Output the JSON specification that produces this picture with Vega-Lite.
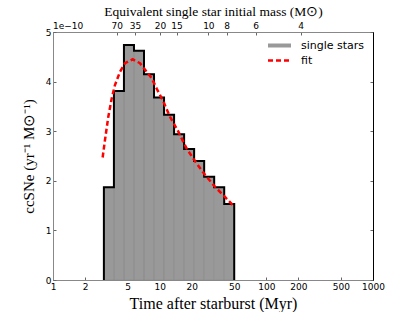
{
  "$schema": "https://vega.github.io/schema/vega-lite/v6.json",
  "width": 320,
  "height": 248,
  "autosize": "none",
  "padding": {"left": 53, "top": 32, "right": 42, "bottom": 32},
  "background": "white",
  "config": {
    "view": {"stroke": "black", "strokeWidth": 1},
    "axis": {"grid": false, "labelFont": "DejaVu Sans", "labelFontSize": 9, "labelColor": "black", "titleFont": "Liberation Serif", "titleFontSize": 16, "titleFontWeight": "normal", "titleColor": "black", "tickSize": -3, "tickColor": "#666", "labelFlush": false, "labelOverlap": false}
  },
  "datasets": {
    "bins": [
      {"t0": 3.0, "t1": 3.725, "rate": 1.87e-10},
      {"t0": 3.725, "t1": 4.625, "rate": 3.81e-10},
      {"t0": 4.625, "t1": 5.743, "rate": 4.74e-10},
      {"t0": 5.743, "t1": 7.131, "rate": 4.62e-10},
      {"t0": 7.131, "t1": 8.854, "rate": 4.15e-10},
      {"t0": 8.854, "t1": 10.99, "rate": 3.68e-10},
      {"t0": 10.99, "t1": 13.65, "rate": 3.33e-10},
      {"t0": 13.65, "t1": 16.95, "rate": 2.94e-10},
      {"t0": 16.95, "t1": 21.04, "rate": 2.64e-10},
      {"t0": 21.04, "t1": 26.13, "rate": 2.40e-10},
      {"t0": 26.13, "t1": 32.44, "rate": 2.08e-10},
      {"t0": 32.44, "t1": 40.28, "rate": 1.87e-10},
      {"t0": 40.28, "t1": 50.0, "rate": 1.53e-10}
    ],
    "outline": [
      {"i": 0, "t": 3.0, "rate": 0},
      {"i": 1, "t": 3.0, "rate": 1.87e-10},
      {"i": 2, "t": 3.725, "rate": 3.81e-10},
      {"i": 3, "t": 4.625, "rate": 4.74e-10},
      {"i": 4, "t": 5.743, "rate": 4.62e-10},
      {"i": 5, "t": 7.131, "rate": 4.15e-10},
      {"i": 6, "t": 8.854, "rate": 3.68e-10},
      {"i": 7, "t": 10.99, "rate": 3.33e-10},
      {"i": 8, "t": 13.65, "rate": 2.94e-10},
      {"i": 9, "t": 16.95, "rate": 2.64e-10},
      {"i": 10, "t": 21.04, "rate": 2.40e-10},
      {"i": 11, "t": 26.13, "rate": 2.08e-10},
      {"i": 12, "t": 32.44, "rate": 1.87e-10},
      {"i": 13, "t": 40.28, "rate": 1.53e-10},
      {"i": 14, "t": 50.0, "rate": 1.53e-10},
      {"i": 15, "t": 50.0, "rate": 0}
    ],
    "fit": [
      {"t": 2.92, "rate": 2.47e-10},
      {"t": 3.07, "rate": 2.82e-10},
      {"t": 3.30, "rate": 3.29e-10},
      {"t": 3.55, "rate": 3.66e-10},
      {"t": 3.81, "rate": 3.93e-10},
      {"t": 4.25, "rate": 4.20e-10},
      {"t": 4.73, "rate": 4.37e-10},
      {"t": 5.58, "rate": 4.45e-10},
      {"t": 6.54, "rate": 4.37e-10},
      {"t": 7.55, "rate": 4.20e-10},
      {"t": 8.41, "rate": 4.07e-10},
      {"t": 9.37, "rate": 3.86e-10},
      {"t": 10.82, "rate": 3.60e-10},
      {"t": 12.5, "rate": 3.29e-10},
      {"t": 14.97, "rate": 2.99e-10},
      {"t": 17.9, "rate": 2.65e-10},
      {"t": 22.2, "rate": 2.35e-10},
      {"t": 26.6, "rate": 2.12e-10},
      {"t": 33.0, "rate": 1.88e-10},
      {"t": 39.5, "rate": 1.71e-10},
      {"t": 49.0, "rate": 1.50e-10}
    ],
    "note": [{"label": "1e\u221210"}]
  },
  "resolve": {"axis": {"x": "independent", "y": "independent"}},
  "layer": [
    {
      "data": {"name": "bins"},
      "mark": {"type": "rect", "fillOpacity": 1},
      "encoding": {
        "x": {"field": "t0", "type": "quantitative", "scale": {"type": "log", "domain": [1, 1000], "nice": false},
          "axis": {"orient": "bottom", "values": [1, 2, 5, 10, 20, 50, 100, 200, 500, 1000], "format": "d", "domainColor": "#888", "labelPadding": 5, "title": "Time after starburst (Myr)", "titlePadding": 4}},
        "x2": {"field": "t1"},
        "y": {"field": "rate", "type": "quantitative", "scale": {"domain": [0, 5e-10], "nice": false, "zero": true},
          "axis": {"orient": "left", "values": [0, 1e-10, 2e-10, 3e-10, 4e-10, 5e-10], "labelExpr": "format(datum.value*1e10,'d')", "domainColor": "#888", "labelPadding": 5, "title": "ccSNe (yr\u207b\u00b9 M\u2299\u207b\u00b9)", "titleFontSize": 15, "titlePadding": 9}},
        "y2": {"datum": 0},
        "color": {"datum": "single stars", "type": "nominal",
          "scale": {"domain": ["single stars", "fit"], "range": ["#999999", "#ff0000"]},
          "legend": {"title": null, "orient": "top-right", "offset": 8, "labelFont": "DejaVu Sans", "labelFontSize": 11, "labelColor": "black", "symbolSize": 100, "labelOffset": 16, "rowPadding": 3,
            "encode": {"symbols": {"update": {
              "shape": {"signal": "datum.label === 'fit' ? 'M-2.3,0H2.3' : 'M-2.3,-0.4H2.3V0.4H-2.3Z'"},
              "fill": {"signal": "datum.label === 'fit' ? 'transparent' : '#999999'"},
              "stroke": {"signal": "datum.label === 'fit' ? '#ff0000' : 'transparent'"},
              "strokeDash": {"signal": "datum.label === 'fit' ? [5, 3] : [1, 0]"},
              "strokeWidth": {"signal": "datum.label === 'fit' ? 2.5 : 0"},
              "opacity": {"value": 1},
              "fillOpacity": {"value": 1}
            }}}
          }}
      }
    },
    {
      "data": {"name": "bins"},
      "mark": {"type": "rect", "fill": "transparent", "stroke": "#8c8c8c", "strokeWidth": 0.6},
      "encoding": {
        "x": {"field": "t0", "type": "quantitative", "axis": null},
        "x2": {"field": "t1"},
        "y": {"field": "rate", "type": "quantitative", "axis": null},
        "y2": {"datum": 0}
      }
    },
    {
      "data": {"name": "outline"},
      "mark": {"type": "line", "interpolate": "step-after", "stroke": "black", "strokeWidth": 2},
      "encoding": {
        "x": {"field": "t", "type": "quantitative", "axis": null},
        "y": {"field": "rate", "type": "quantitative", "axis": null},
        "order": {"field": "i", "type": "quantitative"}
      }
    },
    {
      "data": {"name": "fit"},
      "mark": {"type": "line", "strokeWidth": 2.5, "strokeDash": [5, 3]},
      "encoding": {
        "x": {"field": "t", "type": "quantitative",
          "axis": {"orient": "top", "values": [3.95, 5.87, 10.07, 14.4, 28.6, 42.5, 79.5, 210], "labelExpr": "datum.value < 5 ? '70' : datum.value < 8 ? '35' : datum.value < 12 ? '20' : datum.value < 20 ? '15' : datum.value < 35 ? '10' : datum.value < 60 ? '8' : datum.value < 150 ? '6' : '4'", "labelPadding": 5, "title": "Equivalent single star initial mass (M\u2299)", "titleFontSize": 13.5, "titlePadding": 3}},
        "y": {"field": "rate", "type": "quantitative",
          "axis": {"orient": "right", "values": [0, 1e-10, 2e-10, 3e-10, 4e-10, 5e-10], "labels": false, "title": null, "domainColor": "black"}},
        "color": {"datum": "fit", "type": "nominal"}
      }
    },
    {
      "data": {"name": "note"},
      "mark": {"type": "text", "align": "left", "baseline": "bottom", "dy": -1, "font": "DejaVu Sans", "fontSize": 9, "color": "black"},
      "encoding": {
        "x": {"datum": 1, "type": "quantitative", "axis": null},
        "y": {"datum": 5e-10, "type": "quantitative", "axis": null},
        "text": {"field": "label"}
      }
    }
  ]
}
